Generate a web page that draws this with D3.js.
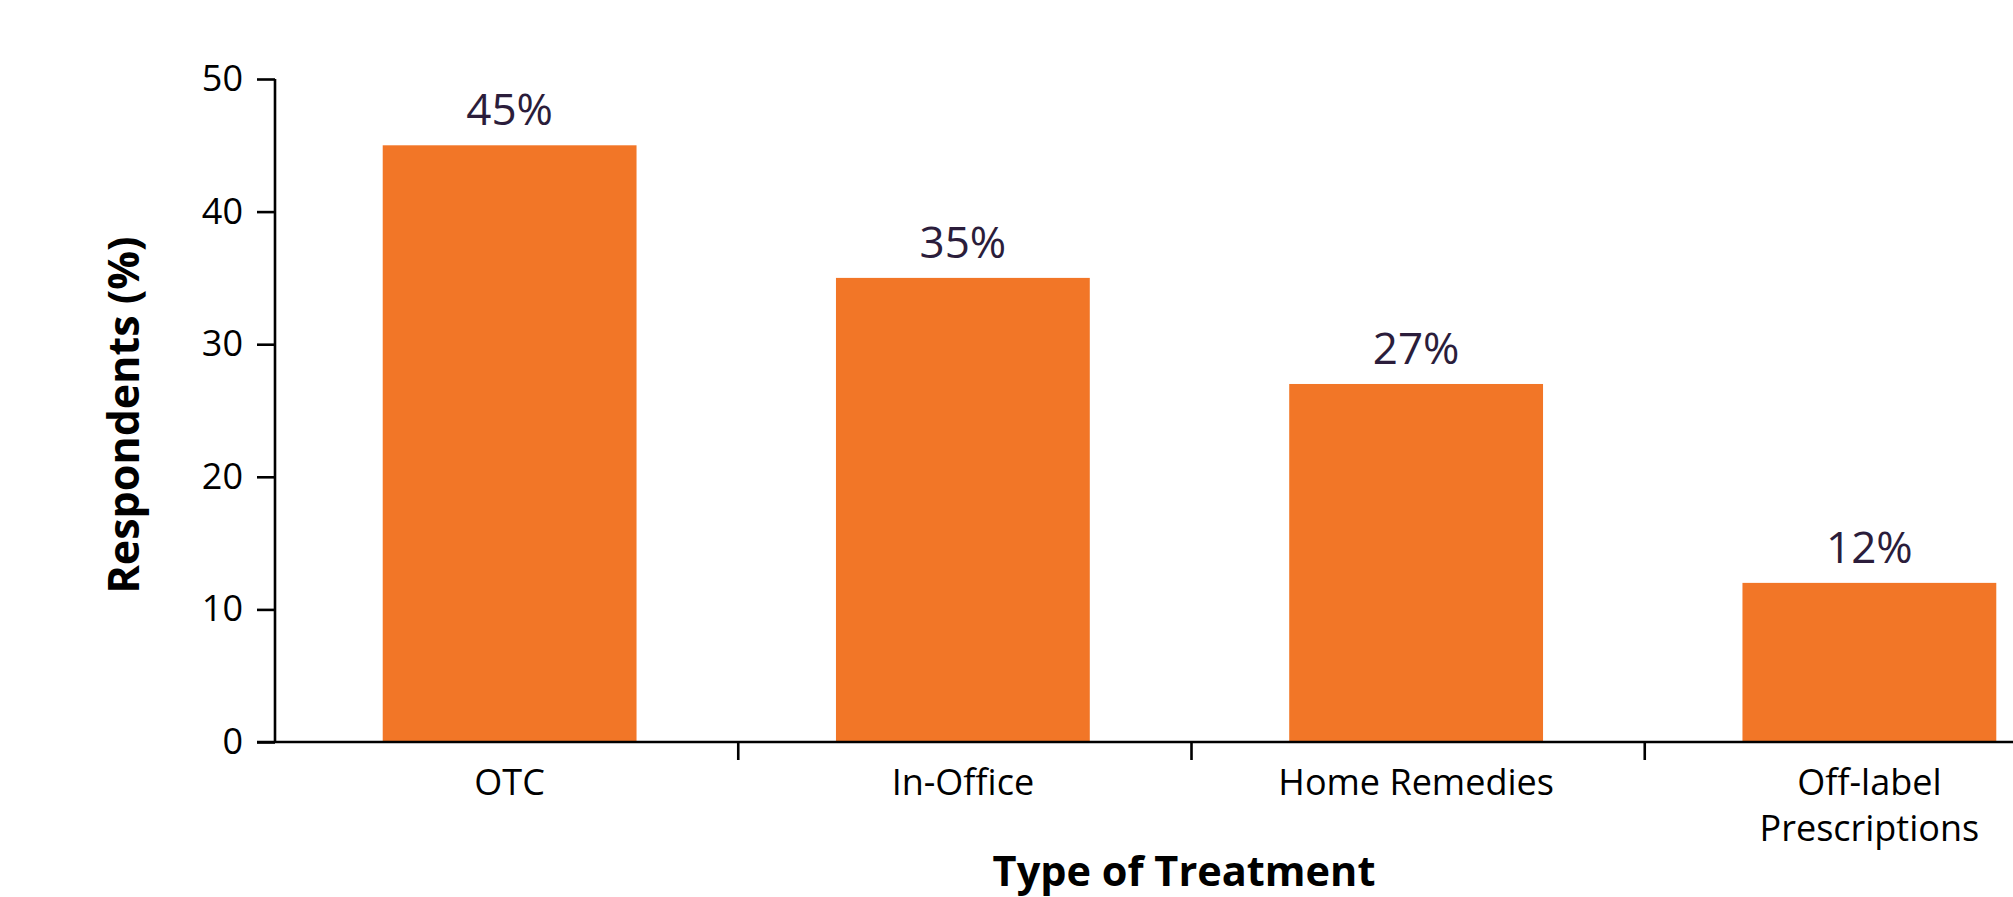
<!DOCTYPE html>
<html>
<head>
<meta charset="utf-8">
<script src="https://cdn.jsdelivr.net/npm/d3@7"></script>
<style>
  html, body { margin: 0; padding: 0; background: #fff; }
  svg { display: block; }
  text { font-family: "Open Sans", "Noto Sans", sans-serif; }
</style>
</head>
<body>
<div id="chart"></div>
<script>
// Treatment types and share of respondents using each
const categories = ["OTC", "In-Office", "Home Remedies", "Off-label\nPrescriptions"];
const values = [45, 35, 27, 12];
const valueLabels = ["45%", "35%", "27%", "12%"];
const yTicks = [0, 10, 20, 30, 40, 50];
const yTitle = "Respondents (%)";
const xTitle = "Type of Treatment";

const W = 2013, H = 897;
const barColor = "#F27627";
const labelColor = "#2B1D3B";

const svg = d3.select("#chart").append("svg")
  .attr("width", W).attr("height", H);

const y = d3.scaleLinear().domain([0, 50]).range([742, 79]);

const x = d3.scaleBand()
  .domain(categories)
  .range([283, 283 + 4 * 453.25])
  .paddingInner(0.44)
  .paddingOuter(0.22);

const step = x.step();

// Bars
svg.append("g").selectAll("rect")
  .data(categories)
  .join("rect")
  .attr("x", d => x(d))
  .attr("width", x.bandwidth())
  .attr("y", (d, i) => y(values[i]))
  .attr("height", (d, i) => y(0) - y(values[i]))
  .attr("fill", barColor);

// Value labels above bars
svg.append("g").selectAll("text")
  .data(categories)
  .join("text")
  .attr("x", d => x(d) + x.bandwidth() / 2)
  .attr("y", (d, i) => y(values[i]) - 20)
  .attr("text-anchor", "middle")
  .attr("font-size", 44)
  .attr("fill", labelColor)
  .text((d, i) => valueLabels[i]);

// Y axis
const yAxis = d3.axisLeft(y).tickValues(yTicks).tickSize(18).tickPadding(14);
const gy = svg.append("g")
  .attr("transform", "translate(275,0)")
  .call(yAxis);
gy.select(".domain").attr("d", `M0,${y(50)}V${y(0)}`)
  .attr("stroke", "#000").attr("stroke-width", 2.6);
gy.selectAll(".tick line").attr("stroke", "#000").attr("stroke-width", 2.6);
gy.selectAll(".tick text")
  .attr("font-size", 36)
  .attr("font-family", "'Open Sans', sans-serif")
  .attr("fill", "#000");

// X axis baseline
svg.append("line")
  .attr("x1", 257).attr("x2", W)
  .attr("y1", y(0)).attr("y2", y(0))
  .attr("stroke", "#000").attr("stroke-width", 2.6);

// Separator ticks between categories
svg.append("g").selectAll("line")
  .data(categories.slice(1))
  .join("line")
  .attr("x1", d => x(d) - step * 0.22 + 2)
  .attr("x2", d => x(d) - step * 0.22 + 2)
  .attr("y1", y(0)).attr("y2", y(0) + 18)
  .attr("stroke", "#000").attr("stroke-width", 2.6);

// Category labels (multi-line where needed)
const catText = svg.append("g").selectAll("text")
  .data(categories)
  .join("text")
  .attr("x", d => x(d) + x.bandwidth() / 2)
  .attr("y", 795)
  .attr("text-anchor", "middle")
  .attr("font-size", 36)
  .attr("fill", "#000");
catText.each(function (d) {
  const t = d3.select(this);
  const cx = x(d) + x.bandwidth() / 2;
  d.split("\n").forEach((line, i) => {
    t.append("tspan").attr("x", cx).attr("dy", i === 0 ? 0 : 46).text(line);
  });
});

// Axis titles
svg.append("text")
  .attr("x", 1184).attr("y", 886)
  .attr("text-anchor", "middle")
  .attr("font-size", 41.5)
  .attr("font-weight", "bold")
  .attr("fill", "#000")
  .text(xTitle);

svg.append("text")
  .attr("transform", "translate(139,415) rotate(-90)")
  .attr("text-anchor", "middle")
  .attr("font-size", 43)
  .attr("font-weight", "bold")
  .attr("fill", "#000")
  .text(yTitle);
</script>
</body>
</html>
